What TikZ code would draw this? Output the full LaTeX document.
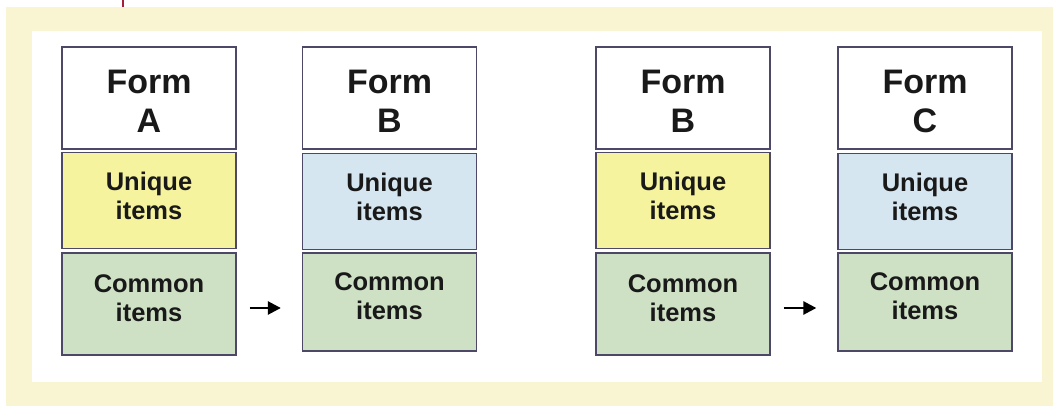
\documentclass[tikz,border=0pt]{standalone}
\usepackage{fontspec}
\setmainfont{Liberation Sans}
\usetikzlibrary{arrows.meta}
\definecolor{cream}{HTML}{F9F4D2}
\definecolor{uyellow}{HTML}{F5F39D}
\definecolor{ublue}{HTML}{D5E6F0}
\definecolor{cgreen}{HTML}{CEE1C5}
\definecolor{bord}{HTML}{4D4868}
\definecolor{tick}{HTML}{A3203C}
\newcommand{\fstrut}{\rule{0pt}{30.5pt}}
\tikzset{
  box/.style={draw=bord, line width=1.3pt, rectangle, minimum width=174pt, align=center, text=black!90, font=\bfseries, inner sep=0pt},
  formbox/.style={box, fill=white, minimum height=102pt, font=\bfseries\fontsize{34}{39}\selectfont, text depth=0pt},
  uniqbox/.style={box, minimum height=96pt, font=\bfseries\fontsize{25.5}{29.5}\selectfont, text depth=9pt},
  commbox/.style={box, fill=cgreen, font=\bfseries\fontsize{25.5}{29.5}\selectfont, text depth=12pt},
  arr/.style={line width=2.6pt, -{Triangle[length=13pt,width=13pt]}}
}
\begin{document}
\begin{tikzpicture}[x=1pt,y=-1pt]
\useasboundingbox (0,0) rectangle (1053,406);
\fill[cream] (6,7) rectangle (1053,406);
\fill[white] (32,31) rectangle (1042,382);
\draw[tick, line width=2pt] (123,0) -- (123,7);
% column 1
\node[formbox] (f1) at (149,98) {\fstrut Form\\A};
\node[uniqbox, fill=uyellow] (u1) at (149,200.5) {Unique\\items};
\node[commbox, minimum height=102pt] (c1) at (149,304) {Common\\items};
% column 2
\node[formbox] (f2) at (389.5,98) {\fstrut Form\\B};
\node[uniqbox, fill=ublue] (u2) at (389.5,201.5) {Unique\\items};
\node[commbox, minimum height=98pt] (c2) at (389.5,302) {Common\\items};
% column 3
\node[formbox] (f3) at (683,98) {\fstrut Form\\B};
\node[uniqbox, fill=uyellow] (u3) at (683,200.5) {Unique\\items};
\node[commbox, minimum height=102pt] (c3) at (683,304) {Common\\items};
% column 4
\node[formbox] (f4) at (925,98) {\fstrut Form\\C};
\node[uniqbox, fill=ublue] (u4) at (925,201.5) {Unique\\items};
\node[commbox, minimum height=98pt] (c4) at (925,302) {Common\\items};
% arrows
\draw[arr, shorten <=13pt, shorten >=21pt] ([yshift=-4pt]c1.east) -- ([yshift=-4pt]c1.east -| c2.west);
\draw[arr, shorten <=13pt, shorten >=21pt] ([yshift=-4pt]c3.east) -- ([yshift=-4pt]c3.east -| c4.west);
\end{tikzpicture}
\end{document}
